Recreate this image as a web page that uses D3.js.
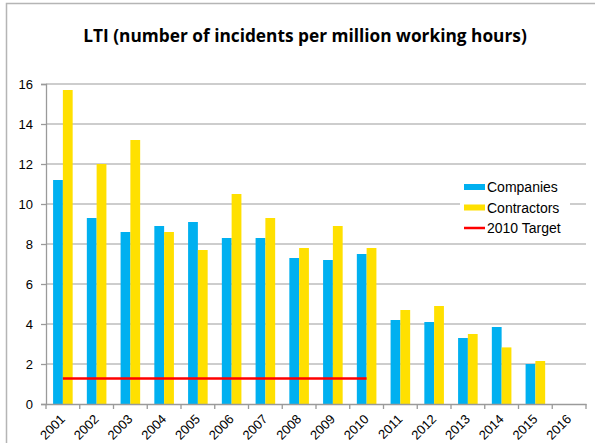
<!DOCTYPE html>
<html>
<head>
<meta charset="utf-8">
<script src="https://cdn.jsdelivr.net/npm/d3@7"></script>
<style>
  body { margin: 0; background: #fff; }
  svg { display: block; }
  text { font-family: "Liberation Sans", Arial, sans-serif; fill: #000; }
</style>
</head>
<body>
<script>
const years = ["2001", "2002", "2003", "2004", "2005", "2006", "2007", "2008",
               "2009", "2010", "2011", "2012", "2013", "2014", "2015", "2016"];
const companies   = [11.2, 9.3, 8.6, 8.9, 9.1, 8.3, 8.3, 7.3, 7.2, 7.5, 4.2, 4.1, 3.3, 3.85, 2.0, null];
const contractors = [15.7, 12.0, 13.2, 8.6, 7.7, 10.5, 9.3, 7.8, 8.9, 7.8, 4.7, 4.9, 3.5, 2.83, 2.15, null];
const target = 1.28;
const targetYears = ["2001", "2010"];
const yTicks = [0, 2, 4, 6, 8, 10, 12, 14, 16];
const seriesNames = ["Companies", "Contractors"];
const colors = { Companies: "#00b0f0", Contractors: "#ffe000", target: "#ff0000" };

const width = 595, height = 443;
const margin = { left: 46, right: 9, top: 84, bottom: 39 };

const svg = d3.select("body").append("svg")
  .attr("width", width)
  .attr("height", height);

// outer chart frame
svg.append("rect")
  .attr("x", 6.5).attr("y", 3.5)
  .attr("width", width + 10).attr("height", height + 10)
  .attr("fill", "none")
  .attr("stroke", "#b5b5b5")
  .attr("stroke-width", 1.5);

svg.append("text")
  .attr("x", 305).attr("y", 42)
  .attr("text-anchor", "middle")
  .style("font-family", "'Open Sans', sans-serif")
  .style("font-weight", "bold")
  .style("font-size", "17.3px")
  .text("LTI (number of incidents per million working hours)");

const x0 = d3.scaleBand()
  .domain(years)
  .range([margin.left, width - margin.right]);

const x1 = d3.scaleBand()
  .domain(seriesNames)
  .range([x0.bandwidth() * 0.21, x0.bandwidth() * 0.79]);

const y = d3.scaleLinear()
  .domain([0, 16])
  .range([height - margin.bottom, margin.top]);

// gridlines
svg.append("g")
  .selectAll("line")
  .data(yTicks.filter(d => d > 0))
  .join("line")
  .attr("x1", margin.left).attr("x2", width - margin.right)
  .attr("y1", d => y(d)).attr("y2", d => y(d))
  .attr("stroke", "#bdbdbd")
  .attr("stroke-width", 1.6);

// y axis
const yAxis = svg.append("g")
  .attr("transform", `translate(${margin.left},0)`)
  .call(d3.axisLeft(y).tickValues(yTicks).tickSize(5).tickPadding(8));
yAxis.selectAll("path, line").attr("stroke", "#9a9a9a").attr("stroke-width", 1.3);
yAxis.selectAll("text")
  .style("font-size", "13px")
  .style("font-family", "'Liberation Sans', Arial, sans-serif");

// bars
const rows = years.map((yr, i) => ({ year: yr, Companies: companies[i], Contractors: contractors[i] }));

svg.append("g")
  .selectAll("g")
  .data(rows)
  .join("g")
  .attr("transform", d => `translate(${x0(d.year)},0)`)
  .selectAll("rect")
  .data(d => seriesNames.filter(s => d[s] != null).map(s => ({ key: s, value: d[s] })))
  .join("rect")
  .attr("x", d => x1(d.key))
  .attr("width", x1.bandwidth())
  .attr("y", d => y(d.value))
  .attr("height", d => y(0) - y(d.value))
  .attr("fill", d => colors[d.key]);

// x axis
const xAxis = svg.append("g")
  .attr("transform", `translate(0,${y(0)})`)
  .call(d3.axisBottom(x0).tickSize(0).tickPadding(0));
xAxis.select(".domain").attr("stroke", "#9a9a9a").attr("stroke-width", 1.3);
xAxis.selectAll(".tick line").remove();
xAxis.selectAll(".tick text")
  .attr("text-anchor", "end")
  .attr("dy", 0)
  .attr("transform", "translate(3,16) rotate(-45)")
  .style("font-size", "13px")
  .style("font-family", "'Liberation Sans', Arial, sans-serif");

// category boundary ticks
svg.append("g")
  .selectAll("line")
  .data(years.map(d => x0(d)).concat([x0.range()[1]]))
  .join("line")
  .attr("x1", d => d).attr("x2", d => d)
  .attr("y1", y(0)).attr("y2", y(0) + 5)
  .attr("stroke", "#9a9a9a")
  .attr("stroke-width", 1.3);

// 2010 target line
svg.append("line")
  .attr("x1", x0(targetYears[0]) + x0.bandwidth() / 2)
  .attr("x2", x0(targetYears[1]) + x0.bandwidth() / 2)
  .attr("y1", y(target)).attr("y2", y(target))
  .attr("stroke", colors.target)
  .attr("stroke-width", 2.5);

// legend
const legend = svg.append("g").attr("transform", "translate(460,176)");
legend.append("rect")
  .attr("width", 110).attr("height", 62)
  .attr("fill", "#fff");
const items = [
  { label: "Companies", key: "Companies" },
  { label: "Contractors", key: "Contractors" },
  { label: "2010 Target", key: "target" }
];
const li = legend.selectAll("g.item")
  .data(items)
  .join("g")
  .attr("class", "item")
  .attr("transform", (d, i) => `translate(0,${11 + i * 20.5})`);
li.filter(d => d.key !== "target").append("rect")
  .attr("x", 4).attr("y", -3)
  .attr("width", 21).attr("height", 6)
  .attr("fill", d => colors[d.key]);
li.filter(d => d.key === "target").append("line")
  .attr("x1", 4).attr("x2", 25)
  .attr("y1", 0).attr("y2", 0)
  .attr("stroke", colors.target)
  .attr("stroke-width", 2.5);
li.append("text")
  .attr("x", 27).attr("y", 5)
  .style("font-size", "14px")
  .text(d => d.label);
</script>
</body>
</html>
